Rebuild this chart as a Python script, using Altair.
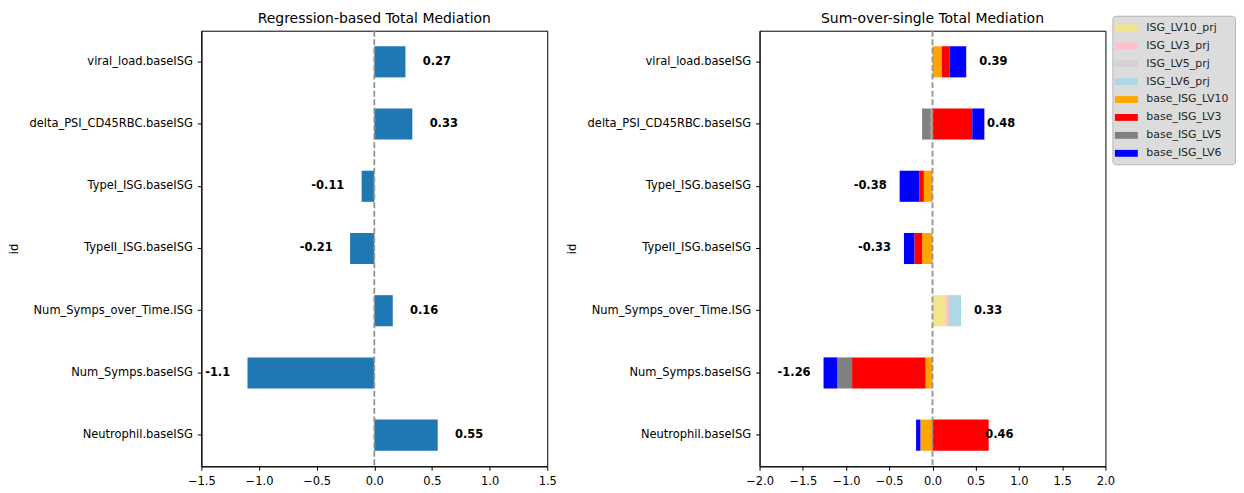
import altair as alt
import pandas as pd

FONT = "DejaVu Sans"

ids = [
    "viral_load.baseISG",
    "delta_PSI_CD45RBC.baseISG",
    "TypeI_ISG.baseISG",
    "TypeII_ISG.baseISG",
    "Num_Symps_over_Time.ISG",
    "Num_Symps.baseISG",
    "Neutrophil.baseISG",
]
reg_values = [0.27, 0.33, -0.11, -0.21, 0.16, -1.1, 0.55]

series = ["ISG_LV10_prj", "ISG_LV3_prj", "ISG_LV5_prj", "ISG_LV6_prj",
          "base_ISG_LV10", "base_ISG_LV3", "base_ISG_LV5", "base_ISG_LV6"]
colors = ["khaki", "pink", "lightgray", "lightblue", "orange", "red", "gray", "blue"]

ISG_LV10_prj = [0, 0, 0, 0, 0.15, 0, 0]
ISG_LV3_prj = [0, 0, 0, 0, 0.04, 0, 0]
ISG_LV5_prj = [0, 0, 0, 0, 0, 0, 0]
ISG_LV6_prj = [0, 0, 0, 0, 0.14, 0, 0]
base_ISG_LV10 = [0.11, -0.02, -0.10, -0.12, 0, -0.08, -0.14]
base_ISG_LV3 = [0.09, 0.46, -0.05, -0.09, 0, -0.85, 0.65]
base_ISG_LV5 = [0, -0.10, 0, 0, 0, -0.17, 0]
base_ISG_LV6 = [0.19, 0.14, -0.23, -0.12, 0, -0.16, -0.05]

series_values = [ISG_LV10_prj, ISG_LV3_prj, ISG_LV5_prj, ISG_LV6_prj,
                 base_ISG_LV10, base_ISG_LV3, base_ISG_LV5, base_ISG_LV6]

# ---- tables ----
reg_df = pd.DataFrame({"id": ids, "value": reg_values,
                       "label": [str(round(v, 2)) for v in reg_values]})

rows = []
for k, (s, vals) in enumerate(zip(series, series_values)):
    for i, v in zip(ids, vals):
        if v != 0:
            rows.append({"id": i, "series": s, "value": v, "order": k})
stack_df = pd.DataFrame(rows)

totals = [round(sum(vals[j] for vals in series_values), 2) for j in range(len(ids))]
tot_df = pd.DataFrame({"id": ids, "value": totals, "label": [str(t) for t in totals]})

W, H = 347, 437
FS = 11.5

yscale = alt.Scale(domain=ids, paddingInner=0.5, paddingOuter=0.25)
yaxis = alt.Axis(title="id", titlePadding=9, titleFontWeight="normal", titleFontSize=FS)


def panel(base_bars, df_text, domain, ticks, title):
    xscale = alt.Scale(domain=domain, nice=False, zero=False)
    xaxis = alt.Axis(values=ticks, format=".1f", title=None, labelFlush=False)
    rule = alt.Chart(pd.DataFrame({"x": [0]})).mark_rule(
        color="#939393", strokeDash=[6, 2.6], strokeWidth=1.8
    ).encode(x=alt.X("x:Q", scale=xscale, axis=xaxis))
    pos = alt.Chart(df_text).transform_filter("datum.value >= 0").transform_calculate(
        tx="datum.value + 0.15"
    ).mark_text(align="left", baseline="middle", fontWeight="bold", fontSize=FS,
                font=FONT, color="black").encode(
        x=alt.X("tx:Q", scale=xscale, axis=xaxis),
        y=alt.Y("id:N", sort=ids, scale=yscale, axis=yaxis),
        text="label:N",
    )
    neg = alt.Chart(df_text).transform_filter("datum.value < 0").transform_calculate(
        tx="datum.value - 0.15"
    ).mark_text(align="right", baseline="middle", fontWeight="bold", fontSize=FS,
                font=FONT, color="black").encode(
        x=alt.X("tx:Q", scale=xscale, axis=xaxis),
        y=alt.Y("id:N", sort=ids, scale=yscale, axis=yaxis),
        text="label:N",
    )
    return alt.layer(base_bars(xscale, xaxis), rule, pos, neg).properties(
        width=W, height=H,
        title=alt.Title(title, font=FONT, fontSize=14, fontWeight="normal",
                        color="black", offset=4),
    )


def left_bars(xscale, xaxis):
    return alt.Chart(reg_df).mark_bar(color="#1f77b4").encode(
        x=alt.X("value:Q", scale=xscale, axis=xaxis),
        y=alt.Y("id:N", sort=ids, scale=yscale, axis=yaxis),
    )


def right_bars(xscale, xaxis):
    return alt.Chart(stack_df).mark_bar().encode(
        x=alt.X("value:Q", stack="zero", scale=xscale, axis=xaxis),
        y=alt.Y("id:N", sort=ids, scale=yscale, axis=yaxis),
        color=alt.Color(
            "series:N",
            scale=alt.Scale(domain=series, range=colors),
            legend=alt.Legend(
                title=None, orient="none", legendX=914, legendY=-15,
                symbolType="M-2,-0.6H2V0.6H-2Z", symbolSize=132,
                symbolStrokeWidth=0, symbolOffset=2, labelOffset=14,
                labelFontSize=11, labelFont=FONT, labelColor="#262626",
                rowPadding=7, padding=6, fillColor="#dcdcdc",
                strokeColor="#b5b5b5", cornerRadius=3,
            ),
        ),
        order=alt.Order("order:Q"),
    )


left = panel(left_bars, reg_df, [-1.5, 1.5],
             [-1.5, -1.0, -0.5, 0.0, 0.5, 1.0, 1.5], "Regression-based Total Mediation")
right = panel(right_bars, tot_df, [-2.0, 2.0],
              [-2.0, -1.5, -1.0, -0.5, 0.0, 0.5, 1.0, 1.5, 2.0], "Sum-over-single Total Mediation")

chart = alt.hconcat(left, right, spacing=9).properties(
    background="white", padding={"left": 0, "top": 2, "right": 0, "bottom": 0}
).configure_view(
    stroke="black", strokeWidth=1
).configure_axis(
    grid=False, domainColor="black", tickColor="black", labelColor="black",
    labelFont=FONT, titleFont=FONT, labelFontSize=FS, titleColor="black",
    tickSize=4, labelPadding=5, domainWidth=1,
)

chart.save("out.html", embed_options={"renderer": "svg", "actions": False})
